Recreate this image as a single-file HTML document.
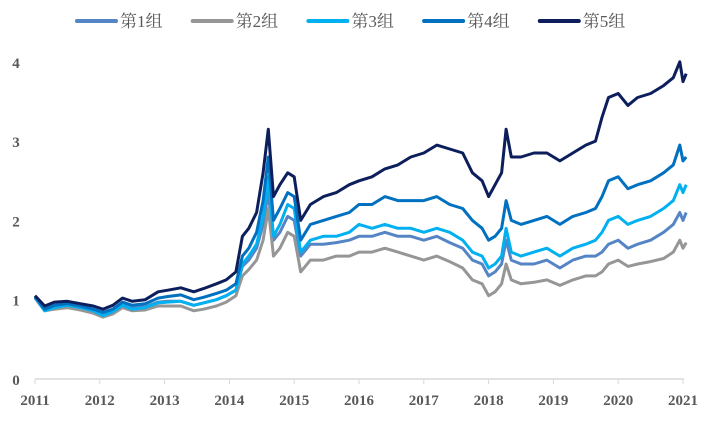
<!DOCTYPE html>
<html><head><meta charset="utf-8"><style>
body{margin:0;background:#fff;}
svg text{font-family:"Liberation Serif","Noto Serif CJK SC",serif;fill:#595959;}
</style></head><body>
<svg width="705" height="417" viewBox="0 0 705 417" xmlns="http://www.w3.org/2000/svg">
<g id="legend"></g>
<g id="axes"></g>
<g id="series"></g>
</svg>
<script>
const dates=[2011.0,2011.15,2011.3,2011.5,2011.7,2011.9,2012.05,2012.2,2012.35,2012.5,
2012.7,2012.9,2013.05,2013.25,2013.45,2013.6,2013.8,2013.95,2014.1,2014.2,
2014.3,2014.42,2014.52,2014.6,2014.68,2014.78,2014.9,2015.0,2015.1,2015.25,
2015.45,2015.65,2015.85,2016.0,2016.2,2016.4,2016.6,2016.8,2017.0,2017.2,
2017.4,2017.6,2017.75,2017.9,2018.0,2018.1,2018.2,2018.27,2018.35,2018.5,
2018.7,2018.9,2019.1,2019.3,2019.5,2019.65,2019.75,2019.85,2020.0,2020.15,
2020.3,2020.5,2020.7,2020.85,2020.95,2021.0,2021.05];
const g1=[1.03,0.87,0.9,0.92,0.89,0.86,0.82,0.86,0.94,0.9,
0.91,0.97,0.98,0.98,0.93,0.96,1.0,1.05,1.12,1.42,
1.5,1.65,1.95,2.35,1.75,1.85,2.05,2.0,1.55,1.7,
1.7,1.72,1.75,1.8,1.8,1.85,1.8,1.8,1.75,1.8,
1.72,1.65,1.5,1.45,1.3,1.35,1.45,1.75,1.5,1.45,
1.45,1.5,1.4,1.5,1.55,1.55,1.6,1.7,1.75,1.65,
1.7,1.75,1.85,1.95,2.1,2.0,2.1];
const g2=[1.02,0.86,0.88,0.9,0.87,0.83,0.78,0.82,0.9,0.86,
0.87,0.92,0.92,0.92,0.86,0.88,0.92,0.97,1.05,1.3,
1.38,1.5,1.75,2.15,1.55,1.65,1.85,1.8,1.35,1.5,
1.5,1.55,1.55,1.6,1.6,1.65,1.6,1.55,1.5,1.55,
1.48,1.4,1.25,1.2,1.05,1.1,1.2,1.45,1.25,1.2,
1.22,1.25,1.18,1.25,1.3,1.3,1.35,1.45,1.5,1.42,
1.45,1.48,1.52,1.6,1.75,1.65,1.72];
const g3=[1.03,0.86,0.9,0.93,0.9,0.86,0.8,0.85,0.93,0.88,
0.9,0.96,0.97,0.98,0.93,0.96,1.0,1.05,1.12,1.45,
1.55,1.7,2.05,2.55,1.8,1.95,2.2,2.15,1.6,1.75,
1.8,1.8,1.85,1.95,1.9,1.95,1.9,1.9,1.85,1.9,
1.85,1.75,1.6,1.55,1.4,1.45,1.55,1.9,1.6,1.55,
1.6,1.65,1.55,1.65,1.7,1.75,1.85,2.0,2.05,1.95,
2.0,2.05,2.15,2.25,2.45,2.35,2.45];
const g4=[1.04,0.88,0.93,0.95,0.92,0.88,0.84,0.88,0.97,0.93,
0.95,1.02,1.04,1.06,1.0,1.03,1.08,1.12,1.2,1.55,
1.65,1.85,2.25,2.8,2.0,2.15,2.35,2.3,1.75,1.95,
2.0,2.05,2.1,2.2,2.2,2.3,2.25,2.25,2.25,2.3,
2.2,2.15,2.0,1.9,1.75,1.8,1.9,2.25,2.0,1.95,
2.0,2.05,1.95,2.05,2.1,2.15,2.3,2.5,2.55,2.4,
2.45,2.5,2.6,2.7,2.95,2.75,2.8];
const g5=[1.05,0.92,0.97,0.98,0.95,0.92,0.88,0.93,1.02,0.98,
1.0,1.1,1.12,1.15,1.1,1.14,1.2,1.25,1.35,1.8,
1.9,2.1,2.6,3.15,2.3,2.45,2.6,2.55,2.0,2.2,
2.3,2.35,2.45,2.5,2.55,2.65,2.7,2.8,2.85,2.95,
2.9,2.85,2.6,2.5,2.3,2.45,2.6,3.15,2.8,2.8,
2.85,2.85,2.75,2.85,2.95,3.0,3.3,3.55,3.6,3.45,
3.55,3.6,3.7,3.8,4.0,3.75,3.85];
const names=["第1组","第2组","第3组","第4组","第5组"];
const colors=["#5585c5","#969696","#00b0f0","#0070c0","#0c1f5c"];
const yTicks=[0,1,2,3,4];
const xTicks=[2011,2012,2013,2014,2015,2016,2017,2018,2019,2020,2021];
const NS="http://www.w3.org/2000/svg";
const X=t=>35+(t-2011)*64.8;
const Y=v=>379-v*79.3;
function mk(tag,attrs,parent){const e=document.createElementNS(NS,tag);for(const k in attrs)e.setAttribute(k,attrs[k]);parent.appendChild(e);return e;}
const axes=document.getElementById('axes');
const base=mk('line',{x1:35,x2:684,y1:Y(0),y2:Y(0),stroke:'#d9d9d9','stroke-width':1.5},axes);


xTicks.forEach(t=>{
  const tk=mk('line',{x1:X(t),x2:X(t),y1:Y(0),y2:Y(0)+5,stroke:'#d9d9d9','stroke-width':1},axes);
  
  
  const tx=mk('text',{x:X(t),y:405,'text-anchor':'middle','font-size':15,'font-weight':'bold'},axes);
  tx.textContent=t;
  
  
});
yTicks.forEach(v=>{
  const tx=mk('text',{x:16,y:Y(v)+6,'text-anchor':'middle','font-size':15,'font-weight':'bold'},axes);
  tx.textContent=v;
  
  
});
const series=document.getElementById('series');
[g1,g2,g3,g4,g5].forEach((s,i)=>{
  const d=s.map((v,j)=>(j?'L':'M')+X(dates[j]).toFixed(1)+','+Y(v).toFixed(1)).join(' ');
  const p=mk('path',{d:d,fill:'none',stroke:colors[i],'stroke-width':3,'stroke-linejoin':'round'},series);
  
  
});
const legend=document.getElementById('legend');
names.forEach((n,i)=>{
  const x0=77+i*115.7;
  const g=mk('g',{},legend);
  
  
  mk('line',{x1:x0,x2:x0+39,y1:21,y2:21,stroke:colors[i],'stroke-width':4,'stroke-linecap':'round'},g);
  const t=mk('text',{x:x0+43,y:27,'font-size':17},g);
  t.textContent=n;
});
</script>
</body></html>
